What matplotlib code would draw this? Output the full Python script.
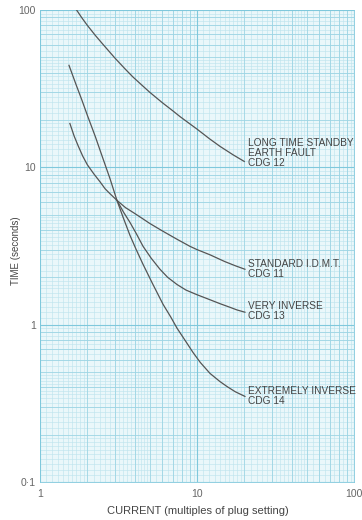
import numpy as np
import matplotlib
matplotlib.use("Agg")
import matplotlib.pyplot as plt

plt.rcParams['font.family'] = ['Liberation Sans', 'DejaVu Sans']

# curves (current in multiples of plug setting, time in s)
cdg12_x = [1.71, 1.85, 2.0, 2.25, 2.5, 3.0, 3.5, 3.91, 4.5, 5.0, 6.0, 7.0, 7.8, 9.0, 10.0, 12.0, 14.0, 17.0, 20.0]
cdg12_y = [100, 89, 80, 69, 61, 49.5, 42, 37.5, 33, 30, 25.8, 22.9, 21.0, 18.9, 17.5, 15.2, 13.6, 12.0, 10.9]

cdg11_x = [1.55, 1.65, 1.75, 1.87, 2.0, 2.2, 2.41, 2.6, 2.79, 3.09, 3.5, 4.0, 4.53, 5.0, 6.0,
           7.46, 9.0, 10.0, 12.1, 15.0, 17.5, 20.2]
cdg11_y = [19.0, 15.8, 13.7, 11.8, 10.4, 9.1, 8.1, 7.3, 6.8, 6.17, 5.55, 5.1, 4.7, 4.4, 3.95,
           3.49, 3.15, 3.0, 2.78, 2.52, 2.37, 2.25]

cdg13_x = [3.09, 3.4, 3.74, 4.1, 4.53, 5.1, 5.81, 6.5, 7.46, 8.5, 10.0, 12.1, 14.0, 16.2, 18.0, 20.2]
cdg13_y = [6.17, 5.2, 4.47, 3.8, 3.15, 2.65, 2.25, 2.0, 1.80, 1.66, 1.55, 1.44, 1.36, 1.29, 1.24, 1.20]

cdg14_x = [1.53, 1.7, 1.85, 2.0, 2.25, 2.5, 2.8, 3.09, 3.4, 3.74, 4.1, 4.53, 5.2, 6.07, 6.8,
           7.46, 8.5, 9.44, 10.5, 12.1, 14.0, 15.5, 17.5, 20.2]
cdg14_y = [44.5, 33.4, 26.7, 21.5, 15.7, 11.6, 8.4, 6.17, 4.75, 3.7, 3.0, 2.42, 1.83, 1.35, 1.12,
           0.95, 0.78, 0.665, 0.575, 0.49, 0.435, 0.405, 0.375, 0.35]

labels = ["LONG TIME STANDBY\nEARTH FAULT\nCDG 12",
          "STANDARD I.D.M.T.\nCDG 11",
          "VERY INVERSE\nCDG 13",
          "EXTREMELY INVERSE\nCDG 14"]
label_y = [12.3, 2.26, 1.23, 0.35]

xticks = [1, 10, 100]
xticklabels = ["1", "10", "100"]
yticks = [0.1, 1, 10, 100]
yticklabels = ["0\u00b71", "1", "10", "100"]

fig = plt.figure(figsize=(3.62, 5.20), dpi=100)
ax = fig.add_axes([40 / 362, 38 / 520, 314 / 362, 472 / 520])
ax.set_xscale('log')
ax.set_yscale('log')
ax.set_xlim(1, 100)
ax.set_ylim(0.1, 100)
ax.set_facecolor('#eaf7fa')

# log graph paper
def paper_lines(lo_dec, hi_dec):
    fine, mid, major = [], [], []
    for d in range(lo_dec, hi_dec):
        b = 10.0 ** d
        for v in np.arange(1.1, 2.0, 0.1):
            fine.append(v * b)
        for v in np.arange(2.2, 5.0, 0.2):
            fine.append(v * b)
        for v in np.arange(5.5, 10.0, 0.5):
            fine.append(v * b)
        for v in range(2, 10):
            mid.append(v * b)
        major.append(b)
    major.append(10.0 ** hi_dec)
    return fine, mid, major

fx, mx, Mx = paper_lines(0, 2)
fy, my, My = paper_lines(-1, 2)
for v in fx:
    ax.axvline(v, color='#bfe4ee', lw=0.45, zorder=0)
for v in fy:
    ax.axhline(v, color='#bfe4ee', lw=0.45, zorder=0)
for v in mx:
    ax.axvline(v, color='#9dd5e4', lw=0.6, zorder=0)
for v in my:
    ax.axhline(v, color='#9dd5e4', lw=0.6, zorder=0)
for v in Mx:
    ax.axvline(v, color='#7fc8dc', lw=0.8, zorder=0)
for v in My:
    ax.axhline(v, color='#7fc8dc', lw=0.8, zorder=0)

for xs, ys in [(cdg12_x, cdg12_y), (cdg11_x, cdg11_y), (cdg13_x, cdg13_y), (cdg14_x, cdg14_y)]:
    ax.plot(xs, ys, color='#555555', lw=0.9, zorder=3, solid_joinstyle='round')

for lab, ly in zip(labels, label_y):
    ax.text(21.1, ly, lab, fontsize=7.3, color='#444444', va='center', ha='left',
            linespacing=1.0, zorder=4)

ax.set_xticks(xticks)
ax.set_xticklabels(xticklabels)
ax.set_yticks(yticks)
ax.set_yticklabels(yticklabels)
ax.minorticks_off()
ax.tick_params(axis='x', length=0, labelsize=7.5, labelcolor='#666666', pad=5)
ax.tick_params(axis='y', length=0, labelsize=7.5, labelcolor='#666666', pad=3)
for s in ax.spines.values():
    s.set_color('#7fc8dc')
    s.set_linewidth(0.6)

fig.text(198 / 362, 1 - 511 / 520, "CURRENT (multiples of plug setting)", fontsize=8,
         color='#444444', ha='center', va='center')
fig.text(16 / 362, 1 - 251 / 520, "TIME (seconds)", fontsize=7, color='#444444',
         ha='center', va='center', rotation=90)

fig.savefig("out.png", dpi=100)
